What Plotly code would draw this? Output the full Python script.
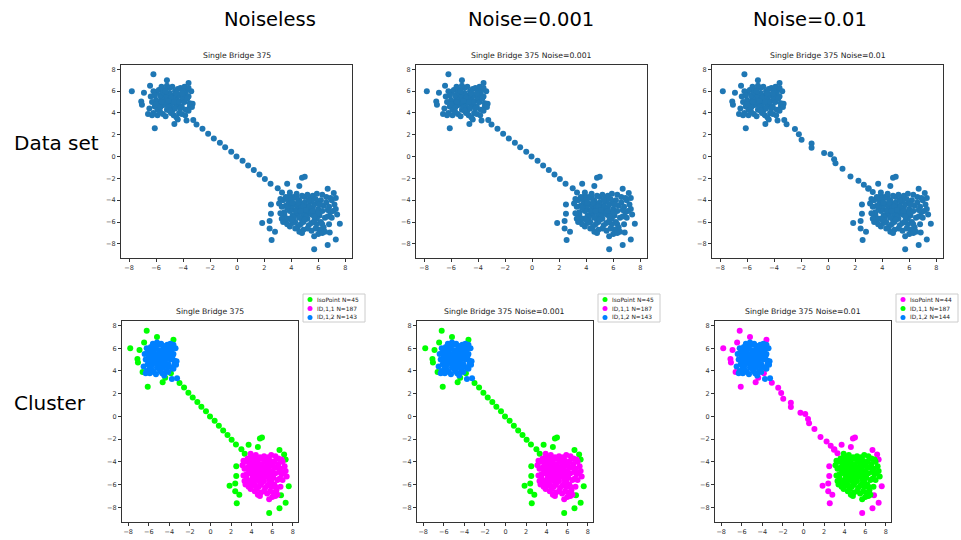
import plotly.graph_objects as go

W, H = 961, 540

# ---------------- data ----------------
ul_core = [(-5.0,5.0),(-4.8,5.2),(-5.2,4.8),(-4.6,4.9),(-5.4,5.1),(-5.1,5.4),(-4.9,4.6),(-4.5,5.3),
           (-5.5,4.7),(-5.3,5.5),(-4.7,5.6),(-4.4,4.7),(-5.6,5.3),(-5.8,4.9),(-4.2,5.1),(-5.0,5.8),
           (-5.2,4.3),(-4.8,4.2),(-4.3,5.6),(-5.7,5.6),(-6.0,5.2),(-6.1,4.6),(-5.9,4.3),(-4.0,5.4),
           (-4.1,4.6),(-3.9,5.0),(-4.6,6.0),(-5.4,6.1),(-5.0,6.3),(-4.4,6.2),(-3.8,5.7),(-3.7,6.1),
           (-3.6,5.5),(-3.5,4.6),(-3.5,4.9),(-4.3,4.0),(-4.7,3.8),(-5.5,3.9),(-5.9,3.8),(-6.2,4.0),
           (-6.3,5.0),(-6.4,5.5),(-6.0,5.9),(-5.6,6.4),(-5.2,6.5),(-4.8,6.4),(-4.2,6.3),(-3.9,6.4),
           (-6.2,6.0),(-4.9,4.0),(-5.3,3.7),(-4.5,3.6),(-4.1,3.9),(-3.8,4.3),(-3.6,4.2),(-6.5,4.4),
           (-6.3,3.8),(-5.7,4.1),(-5.1,4.5),(-4.6,4.4),(-4.4,5.0),(-5.3,5.0),(-5.6,5.0),(-4.9,5.4),
           (-4.7,5.0),(-5.1,5.1),(-4.0,6.0),(-3.7,5.3),(-6.1,5.6),(-5.8,6.1),(-4.5,5.8),(-5.5,5.9),
           (-4.2,4.4),(-5.0,4.2),(-6.0,4.8),(-5.3,6.0),(-3.4,6.0),(-3.6,6.3),(-4.1,5.8),(-5.7,4.5),
           (-3.3,4.85),(-3.35,4.55),(-3.75,3.3),(-3.25,3.35)]
ul_out = [(-7.8,6.0),(-6.9,5.85),(-7.1,5.05),(-7.05,4.75),(-6.2,7.55),(-6.45,6.5),(-5.2,7.0),
          (-3.6,6.75),(-6.1,2.6),(-4.65,3.0),(-4.4,3.4),(-3.85,3.8),(-6.6,3.9)]

lr_core = [(5.0,-5.0),(4.8,-4.8),(5.2,-5.2),(4.6,-5.1),(5.4,-4.9),(5.1,-4.6),(4.9,-5.4),(4.5,-4.7),
           (5.5,-5.3),(5.3,-4.5),(4.7,-4.4),(4.4,-5.3),(5.6,-4.7),(5.8,-5.1),(4.2,-4.9),(5.0,-4.2),
           (5.2,-5.7),(4.8,-5.8),(4.3,-4.4),(5.7,-4.4),(6.0,-4.8),(6.1,-5.4),(5.9,-5.7),(4.0,-4.6),
           (4.1,-5.4),(3.9,-5.0),(4.6,-4.0),(5.4,-3.9),(5.0,-3.7),(4.4,-3.8),(3.8,-4.3),(3.7,-3.9),
           (3.6,-4.5),(3.5,-5.4),(3.5,-5.1),(4.3,-6.0),(4.7,-6.2),(5.5,-6.1),(5.9,-6.2),(6.2,-6.0),
           (6.3,-5.0),(6.4,-4.5),(6.0,-4.1),(5.6,-3.6),(5.2,-3.5),(4.8,-3.6),(4.2,-3.7),(3.9,-3.6),
           (6.2,-4.0),(4.9,-6.0),(5.3,-6.3),(4.5,-6.4),(4.1,-6.1),(3.8,-5.7),(3.6,-5.8),(6.5,-5.6),
           (6.3,-6.2),(5.7,-5.9),(5.1,-5.5),(4.6,-5.6),(4.4,-5.0),(5.3,-5.0),(5.6,-5.0),(4.9,-4.6),
           (4.7,-5.0),(5.1,-4.9),(4.0,-4.0),(3.7,-4.7),(6.1,-4.4),(5.8,-3.9),(4.5,-4.2),(5.5,-4.1),
           (4.2,-5.6),(5.0,-5.8),(6.0,-5.2),(5.3,-4.0),(3.4,-4.0),(3.6,-3.7),(4.1,-4.2),(5.7,-5.5),
           (6.6,-4.2),(6.8,-4.6),(6.9,-5.1),(6.7,-5.5),(7.0,-4.0),(7.2,-4.4),(7.1,-5.0),(6.6,-3.7),
           (6.9,-3.8),(6.4,-6.5),(6.1,-6.7),(5.8,-6.6),(5.5,-6.8),(5.2,-6.6),(4.9,-6.7),(4.6,-6.9),
           (4.3,-6.6),(3.9,-6.4),(3.7,-6.2),(3.3,-4.6),(3.2,-5.2),(3.3,-5.7),(3.4,-6.0),(3.1,-4.3),
           (6.5,-6.9),(6.0,-7.1),(5.7,-7.3),(6.3,-7.0),(4.0,-5.8),(4.8,-7.0),(6.8,-6.2),(7.0,-5.6),
           (7.3,-4.8),(7.4,-5.3),(3.9,-3.3),(4.4,-3.4),(5.9,-3.4),(6.3,-3.5),(6.7,-4.9),(3.2,-3.9)]
lr_out = [(1.85,-6.1),(2.5,-4.4),(2.5,-5.25),(2.4,-5.9),(2.4,-6.6),(2.8,-6.9),(2.55,-7.65),
          (3.7,-2.5),(4.6,-2.7),(4.8,-1.95),(5.0,-1.85),(6.7,-2.95),(7.15,-3.35),(7.3,-3.8),
          (7.6,-6.15),(7.3,-7.6),(6.7,-8.1),(5.7,-8.5),(6.85,-6.95),(3.0,-2.9)]

bridge_noiseless = [(-3.01,2.94),(-2.57,2.55),(-2.15,2.09),(-1.73,1.67),(-1.28,1.27),(-0.89,0.85),
                    (-0.44,0.45),(-0.05,0.0),(0.40,-0.39),(0.81,-0.82),(1.23,-1.24),(1.65,-1.64),
                    (2.05,-2.06),(2.47,-2.48),(3.32,-3.3)]
bridge_0001 = [(-3.01,2.94),(-2.57,2.55),(-2.15,2.09),(-1.73,1.67),(-1.28,1.27),(-0.89,0.85),
               (-0.44,0.45),(-0.05,0.0),(0.40,-0.39),(0.81,-0.82),(1.23,-1.24),(1.65,-1.64),
               (2.05,-2.06),(2.47,-2.48),(3.32,-3.3)]
bridge_001 = [(-3.08,2.97),(-2.46,2.52),(-2.17,2.06),(-1.97,1.55),(-1.23,1.21),(-1.23,0.82),
              (-0.30,0.33),(0.17,0.21),(0.44,-0.24),(0.54,-0.61),(1.06,-1.12),(1.65,-1.82),
              (2.24,-2.21),(2.64,-2.58),(2.96,-2.94),(3.3,-3.25)]

col_headers = ["Noiseless", "Noise=0.001", "Noise=0.01"]
row_headers = ["Data set", "Cluster"]
panel_titles = ["Single Bridge 375", "Single Bridge 375 Noise=0.001", "Single Bridge 375 Noise=0.01"]
legend_labels = [["IsoPoint N=45", "ID,1,1 N=187", "ID,1,2 N=143"],
                 ["IsoPoint N=45", "ID,1,1 N=187", "ID,1,2 N=143"],
                 ["IsoPoint N=44", "ID,1,1 N=187", "ID,1,2 N=144"]]
tick_vals = [-8, -6, -4, -2, 0, 2, 4, 6, 8]
bridges = [bridge_noiseless, bridge_0001, bridge_001]

# ---------------- styling ----------------
BLUE_TOP = "#1f77b4"
GREEN, MAGENTA, BLUE = "#00ff00", "#ff00ff", "#0080ff"
cluster_colors = [[GREEN, MAGENTA, BLUE], [GREEN, MAGENTA, BLUE], [MAGENTA, GREEN, BLUE]]
FONT = "DejaVu Sans"

# pixel boxes (left, right, top, bottom)
top_boxes = [(121, 352, 65, 258), (416, 647, 65, 258), (712, 943, 65, 258)]
bot_boxes = [(122, 298, 321, 522), (417, 593, 321, 522), (715, 891, 321, 522)]

def px(x):
    return x / W

def py(y):
    return 1 - y / H

def xs(pts):
    return [p[0] for p in pts]

def ys(pts):
    return [p[1] for p in pts]

fig = go.Figure()
layout = dict(width=W, height=H, margin=dict(l=0, r=0, t=0, b=0),
              paper_bgcolor="white", plot_bgcolor="white", showlegend=False)
annotations, shapes = [], []

def axis_style(dom, anchor, rng):
    return dict(domain=dom, anchor=anchor, range=rng, showgrid=False, zeroline=False,
                showline=True, mirror=True, linecolor="#333", linewidth=1,
                ticks="outside", ticklen=3, tickwidth=1, tickcolor="#333",
                tickvals=tick_vals, tickfont=dict(family=FONT, size=6.5, color="#333"))

XR = [-8.6, 8.5]
YR = [-9.3, 8.4]

idx = 0
for row, boxes in enumerate([top_boxes, bot_boxes]):
    for col, (l, r, t, b) in enumerate(boxes):
        idx += 1
        xa = "x" if idx == 1 else f"x{idx}"
        ya = "y" if idx == 1 else f"y{idx}"
        layout["xaxis" if idx == 1 else f"xaxis{idx}"] = axis_style([px(l), px(r)], ya, XR)
        layout["yaxis" if idx == 1 else f"yaxis{idx}"] = axis_style([py(b), py(t)], xa, YR)
        bridge = bridges[col]
        if row == 0:
            allpts = ul_core + ul_out + lr_core + lr_out + bridge
            fig.add_trace(go.Scatter(x=xs(allpts), y=ys(allpts), mode="markers", xaxis=xa, yaxis=ya,
                                     marker=dict(color=BLUE_TOP, size=6, line=dict(width=0))))
        else:
            groups = [ul_out + lr_out + bridge, lr_core, ul_core]
            for g, c in zip(groups, cluster_colors[col]):
                fig.add_trace(go.Scatter(x=xs(g), y=ys(g), mode="markers", xaxis=xa, yaxis=ya,
                                         marker=dict(color=c, size=6, line=dict(width=0))))
            # legend box (drawn manually to match the compact matplotlib legend)
            lx, ltop = r + 5, 294
            lw, lh = 62, 28
            shapes.append(dict(type="rect", xref="paper", yref="paper", x0=px(lx), x1=px(lx + lw),
                               y0=py(ltop + lh), y1=py(ltop), line=dict(color="#cccccc", width=1),
                               fillcolor="white"))
            for k, (lab, c) in enumerate(zip(legend_labels[col], cluster_colors[col])):
                cy = ltop + 5.5 + 9 * k
                shapes.append(dict(type="circle", xref="paper", yref="paper",
                                   x0=px(lx + 4.5), x1=px(lx + 9.5), y0=py(cy + 2.5), y1=py(cy - 2.5),
                                   fillcolor=c, line=dict(width=0)))
                annotations.append(dict(text=lab, xref="paper", yref="paper", x=px(lx + 12), y=py(cy),
                                        xanchor="left", yanchor="middle", showarrow=False,
                                        font=dict(family=FONT, size=5.9, color="#222")))
        annotations.append(dict(text=panel_titles[col], xref="paper", yref="paper",
                                x=px((l + r) / 2), y=py(t - 3), xanchor="center", yanchor="bottom",
                                showarrow=False, font=dict(family=FONT, size=7.7, color="#222")))

# column headers and row headers
for txt, cx in zip(col_headers, [270, 531, 810]):
    annotations.append(dict(text=txt, xref="paper", yref="paper", x=px(cx), y=py(20),
                            xanchor="center", yanchor="middle", showarrow=False,
                            font=dict(family=FONT, size=19.5, color="black")))
for txt, cy in zip(row_headers, [143, 403]):
    annotations.append(dict(text=txt, xref="paper", yref="paper", x=px(12), y=py(cy),
                            xanchor="left", yanchor="middle", showarrow=False,
                            font=dict(family=FONT, size=20, color="black")))

layout["annotations"] = annotations
layout["shapes"] = shapes
fig.update_layout(**layout)
fig.write_html("out.html", config={"displayModeBar": False},
               post_script="document.body.style.margin='0px';")
